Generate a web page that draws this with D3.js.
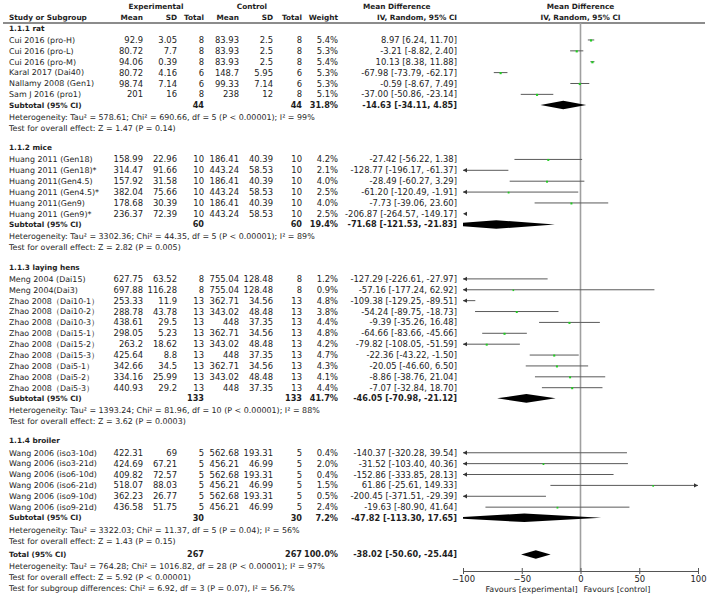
<!DOCTYPE html>
<html>
<head>
<meta charset="utf-8">
<script src="https://cdn.jsdelivr.net/npm/d3@7"></script>
<style>
  body { margin: 0; background: #fff; }
  svg text { font-family: "DejaVu Sans", sans-serif; fill: #1e1e1e; }
  svg text.b { font-weight: bold; }
</style>
</head>
<body>
<svg id="forest"></svg>
<script>
// subgroups
var groupNames = ["1.1.1 rat", "1.1.2 mice", "1.1.3 laying hens", "1.1.4 broiler"];

// studies (one entry per row)
var studyGroup = [0, 0, 0, 0, 0, 0,
  1, 1, 1, 1, 1, 1,
  2, 2, 2, 2, 2, 2, 2, 2, 2, 2, 2,
  3, 3, 3, 3, 3, 3];
var studyNames = [
  "Cui 2016 (pro-H)", "Cui 2016 (pro-L)", "Cui 2016 (pro-M)", "Karal 2017 (Dai40)", "Nallamy 2008 (Gen1)", "Sam J 2016 (pro1)",
  "Huang 2011 (Gen18)", "Huang 2011 (Gen18)*", "Huang 2011(Gen4.5)", "Huang 2011 (Gen4.5)*", "Huang 2011(Gen9)", "Huang 2011 (Gen9)*",
  "Meng 2004 (Dai15)", "Meng 2004(Dai3)", "Zhao 2008（Dai10-1）", "Zhao 2008（Dai10-2）", "Zhao 2008（Dai10-3）",
  "Zhao 2008（Dai15-1）", "Zhao 2008（Dai15-2）", "Zhao 2008（Dai15-3）", "Zhao 2008（Dai5-1）", "Zhao 2008（Dai5-2）", "Zhao 2008（Dai5-3）",
  "Wang 2006 (iso3-10d)", "Wang 2006 (iso3-21d)", "Wang 2006 (iso6-10d)", "Wang 2006 (iso6-21d)", "Wang 2006 (iso9-10d)", "Wang 2006 (iso9-21d)"
];
var expMean = [92.9, 80.72, 94.06, 80.72, 98.74, 201,
  158.99, 314.47, 157.92, 382.04, 178.68, 236.37,
  627.75, 697.88, 253.33, 288.78, 438.61, 298.05, 263.2, 425.64, 342.66, 334.16, 440.93,
  422.31, 424.69, 409.82, 518.07, 362.23, 436.58];
var expSD = [3.05, 7.7, 0.39, 4.16, 7.14, 16,
  22.96, 91.66, 31.58, 75.66, 30.39, 72.39,
  63.52, 116.28, 11.9, 43.78, 29.5, 5.23, 18.62, 8.8, 34.5, 25.99, 29.2,
  69, 67.21, 72.57, 88.03, 26.77, 51.75];
var expTotal = [8, 8, 8, 6, 6, 8,
  10, 10, 10, 10, 10, 10,
  8, 8, 13, 13, 13, 13, 13, 13, 13, 13, 13,
  5, 5, 5, 5, 5, 5];
var ctlMean = [83.93, 83.93, 83.93, 148.7, 99.33, 238,
  186.41, 443.24, 186.41, 443.24, 186.41, 443.24,
  755.04, 755.04, 362.71, 343.02, 448, 362.71, 343.02, 448, 362.71, 343.02, 448,
  562.68, 456.21, 562.68, 456.21, 562.68, 456.21];
var ctlSD = [2.5, 2.5, 2.5, 5.95, 7.14, 12,
  40.39, 58.53, 40.39, 58.53, 40.39, 58.53,
  128.48, 128.48, 34.56, 48.48, 37.35, 34.56, 48.48, 37.35, 34.56, 48.48, 37.35,
  193.31, 46.99, 193.31, 46.99, 193.31, 46.99];
var ctlTotal = expTotal;
var weights = [5.4, 5.3, 5.4, 5.3, 5.3, 5.1,
  4.2, 2.1, 4.0, 2.5, 4.0, 2.5,
  1.2, 0.9, 4.8, 3.8, 4.4, 4.8, 4.2, 4.7, 4.3, 4.1, 4.4,
  0.4, 2.0, 0.4, 1.5, 0.5, 2.4];
var md = [8.97, -3.21, 10.13, -67.98, -0.59, -37.00,
  -27.42, -128.77, -28.49, -61.20, -7.73, -206.87,
  -127.29, -57.16, -109.38, -54.24, -9.39, -64.66, -79.82, -22.36, -20.05, -8.86, -7.07,
  -140.37, -31.52, -152.86, 61.86, -200.45, -19.63];
var ciLow = [6.24, -8.82, 8.38, -73.79, -8.67, -50.86,
  -56.22, -196.17, -60.27, -120.49, -39.06, -264.57,
  -226.61, -177.24, -129.25, -89.75, -35.26, -83.66, -108.05, -43.22, -46.60, -38.76, -32.84,
  -320.28, -103.40, -333.85, -25.61, -371.51, -80.90];
var ciHigh = [11.70, 2.40, 11.88, -62.17, 7.49, -23.14,
  1.38, -61.37, 3.29, -1.91, 23.60, -149.17,
  -27.97, 62.92, -89.51, -18.73, 16.48, -45.66, -51.59, -1.50, 6.50, 21.04, 18.70,
  39.54, 40.36, 28.13, 149.33, -29.39, 41.64];

// subtotals
var subTotalExp = [44, 60, 133, 30];
var subTotalCtl = [44, 60, 133, 30];
var subWeight = [31.8, 19.4, 41.7, 7.2];
var subMD = [-14.63, -71.68, -46.05, -47.82];
var subLow = [-34.11, -121.53, -70.98, -113.30];
var subHigh = [4.85, -21.83, -21.12, 17.65];
var subHet = [
  "Heterogeneity: Tau² = 578.61; Chi² = 690.66, df = 5 (P < 0.00001); I² = 99%",
  "Heterogeneity: Tau² = 3302.36; Chi² = 44.35, df = 5 (P < 0.00001); I² = 89%",
  "Heterogeneity: Tau² = 1393.24; Chi² = 81.96, df = 10 (P < 0.00001); I² = 88%",
  "Heterogeneity: Tau² = 3322.03; Chi² = 11.37, df = 5 (P = 0.04); I² = 56%"
];
var subTest = [
  "Test for overall effect: Z = 1.47 (P = 0.14)",
  "Test for overall effect: Z = 2.82 (P = 0.005)",
  "Test for overall effect: Z = 3.62 (P = 0.0003)",
  "Test for overall effect: Z = 1.43 (P = 0.15)"
];

// overall
var totalExp = 267, totalCtl = 267, totalWeight = 100.0;
var totalMD = -38.02, totalLow = -50.60, totalHigh = -25.44;
var totalNotes = [
  "Heterogeneity: Tau² = 764.28; Chi² = 1016.82, df = 28 (P < 0.00001); I² = 97%",
  "Test for overall effect: Z = 5.92 (P < 0.00001)",
  "Test for subgroup differences: Chi² = 6.92, df = 3 (P = 0.07), I² = 56.7%"
];

var axisTicks = [-100, -50, 0, 50, 100];
var favourLabels = ["Favours [experimental]", "Favours [control]"];

function ciText(m, lo, hi) {
  return m.toFixed(2) + " [" + lo.toFixed(2) + ", " + hi.toFixed(2) + "]";
}

// font size that makes a sample string about `target` px wide
function fitSize(svg, sample, target, bold) {
  var t = svg.append("text").attr("font-size", 10).text(sample);
  if (bold) t.attr("class", "b");
  var w = t.node().getComputedTextLength();
  t.remove();
  return 10 * target / w;
}

function drawForest(id) {
  var width = 708, height = 602;
  var svg = d3.select(id).attr("width", width).attr("height", height);

  var fsText = fitSize(svg, subHet[0], 306, false);
  var fsNum = fitSize(svg, "-67.98 [-73.79, -62.17]", 96, false);
  var fsBold = fitSize(svg, "Study or Subgroup", 78, true);

  // column right edges
  var col = { label: 9, expMean: 143, expSD: 177, expTotal: 204, ctlMean: 239, ctlSD: 273, ctlTotal: 302, weight: 338, ci: 457 };

  var x = d3.scaleLinear().domain([-100, 100]).range([463, 698]);
  var y = d3.scaleLinear().domain([0, 1]).range([28, 38.88]);

  // lay out the rows
  var rows = [];
  var pos = 0;
  groupNames.forEach(function (g, gi) {
    if (gi > 0) pos += 1.8;
    rows.push({ kind: "group", pos: pos, gi: gi });
    pos += 1.1;
    studyNames.forEach(function (s, i) {
      if (studyGroup[i] !== gi) return;
      rows.push({ kind: "study", pos: pos, i: i });
      pos += 1;
    });
    pos -= 0.02;
    rows.push({ kind: "subtotal", pos: pos, gi: gi });
    pos += 1.1;
    rows.push({ kind: "note", pos: pos, text: subHet[gi] });
    pos += 1;
    rows.push({ kind: "note", pos: pos, text: subTest[gi] });
  });
  pos += 1.27;
  rows.push({ kind: "total", pos: pos });
  pos += 1.03;
  totalNotes.forEach(function (t) {
    rows.push({ kind: "note", pos: pos, text: t });
    pos += 1.05;
  });

  function txt(xp, yp, s, anchor, kind) {
    var size = kind === "num" ? fsNum : (kind === "b" || kind === "bnum") ? fsBold : fsText;
    if (kind === "bnum") size = fsNum * 0.97;
    svg.append("text")
      .attr("x", xp)
      .attr("y", yp)
      .attr("dy", "0.36em")
      .attr("text-anchor", anchor || "start")
      .attr("class", (kind === "b" || kind === "bnum") ? "b" : null)
      .attr("font-size", size)
      .text(s);
  }

  // headers
  txt(156, 6.5, "Experimental", "middle", "b");
  txt(252, 6.5, "Control", "middle", "b");
  txt(col.label, 17, "Study or Subgroup", "start", "b");
  txt(col.expMean, 17, "Mean", "end", "b");
  txt(col.expSD, 17, "SD", "end", "b");
  txt(col.expTotal, 17, "Total", "end", "b");
  txt(col.ctlMean, 17, "Mean", "end", "b");
  txt(col.ctlSD, 17, "SD", "end", "b");
  txt(col.ctlTotal, 17, "Total", "end", "b");
  txt(col.weight, 17, "Weight", "end", "b");
  txt(363, 6.5, "Mean Difference", "start", "b");
  txt(col.ci, 17, "IV, Random, 95% CI", "end", "b");
  txt(x(0), 6.5, "Mean Difference", "middle", "b");
  txt(x(0), 17, "IV, Random, 95% CI", "middle", "b");

  svg.append("line")
    .attr("x1", 3).attr("x2", 705)
    .attr("y1", 23).attr("y2", 23)
    .attr("stroke", "#8c8c8c").attr("stroke-width", 2);

  // zero line
  svg.append("line")
    .attr("x1", x(0)).attr("x2", x(0))
    .attr("y1", 23).attr("y2", 571)
    .attr("stroke", "#a0a0a0").attr("stroke-width", 1.6);

  svg.append("clipPath").attr("id", "plotclip")
    .append("rect")
    .attr("x", x(-100)).attr("y", 0)
    .attr("width", x(100) - x(-100)).attr("height", height);

  var plot = svg.append("g");

  function diamond(yp, m, lo, hi) {
    plot.append("polygon")
      .attr("clip-path", "url(#plotclip)")
      .attr("points", [[x(lo), yp], [x(m), yp - 4.3], [x(hi), yp], [x(m), yp + 4.3]].join(" "))
      .attr("fill", "#000");
  }

  function arrow(xp, yp, dir) {
    plot.append("polygon")
      .attr("points", [[xp, yp], [xp - dir * 4, yp - 2.2], [xp - dir * 4, yp + 2.2]].join(" "))
      .attr("fill", "#333");
  }

  rows.forEach(function (r) {
    var yp = y(r.pos);
    if (r.kind === "group") {
      txt(col.label, yp, groupNames[r.gi], "start", "b");
    } else if (r.kind === "note") {
      txt(col.label, yp, r.text);
    } else if (r.kind === "study") {
      var i = r.i;
      txt(col.label, yp, studyNames[i]);
      txt(col.expMean, yp, String(expMean[i]), "end", "num");
      txt(col.expSD, yp, String(expSD[i]), "end", "num");
      txt(col.expTotal, yp, String(expTotal[i]), "end", "num");
      txt(col.ctlMean, yp, String(ctlMean[i]), "end", "num");
      txt(col.ctlSD, yp, String(ctlSD[i]), "end", "num");
      txt(col.ctlTotal, yp, String(ctlTotal[i]), "end", "num");
      txt(col.weight, yp, weights[i].toFixed(1) + "%", "end", "num");
      txt(col.ci, yp, ciText(md[i], ciLow[i], ciHigh[i]), "end", "num");

      var lo = Math.max(ciLow[i], -100), hi = Math.min(ciHigh[i], 100);
      if (hi > lo) {
        plot.append("line")
          .attr("x1", x(lo)).attr("x2", x(hi))
          .attr("y1", yp).attr("y2", yp)
          .attr("stroke", "#5a5a5a").attr("stroke-width", 1);
      }
      if (ciLow[i] < -100) arrow(x(-100), yp, -1);
      if (ciHigh[i] > 100) arrow(x(100), yp, 1);
      if (md[i] >= -100 && md[i] <= 100) {
        var s = 1.5 + weights[i] * 0.12;
        plot.append("rect")
          .attr("x", x(md[i]) - s / 2).attr("y", yp - s / 2 + 0.5)
          .attr("width", s).attr("height", s)
          .attr("fill", "#22cc22");
      }
    } else if (r.kind === "subtotal") {
      var g = r.gi;
      txt(col.label, yp, "Subtotal (95% CI)", "start", "b");
      txt(col.expTotal, yp, String(subTotalExp[g]), "end", "bnum");
      txt(col.ctlTotal, yp, String(subTotalCtl[g]), "end", "bnum");
      txt(col.weight, yp, subWeight[g].toFixed(1) + "%", "end", "bnum");
      txt(col.ci, yp, ciText(subMD[g], subLow[g], subHigh[g]), "end", "bnum");
      diamond(yp, subMD[g], subLow[g], subHigh[g]);
    } else if (r.kind === "total") {
      txt(col.label, yp, "Total (95% CI)", "start", "b");
      txt(col.expTotal, yp, String(totalExp), "end", "bnum");
      txt(col.ctlTotal, yp, String(totalCtl), "end", "bnum");
      txt(col.weight, yp, totalWeight.toFixed(1) + "%", "end", "bnum");
      txt(col.ci, yp, ciText(totalMD, totalLow, totalHigh), "end", "bnum");
      diamond(yp, totalMD, totalLow, totalHigh);
    }
  });

  // axis
  var xAxis = d3.axisBottom(x).tickValues(axisTicks).tickSizeInner(3).tickSizeOuter(0).tickPadding(2);
  var ax = svg.append("g")
    .attr("transform", "translate(0,571)")
    .call(xAxis);
  ax.select(".domain").attr("stroke", "#555");
  ax.selectAll(".tick line").attr("y1", -3).attr("y2", 3).attr("stroke", "#555");
  ax.selectAll(".tick text")
    .attr("font-family", "DejaVu Sans, sans-serif")
    .attr("font-size", fsNum)
    .attr("fill", "#1e1e1e");

  txt(x(0) - 3, 589, favourLabels[0], "end");
  txt(x(0) + 3, 589, favourLabels[1], "start");
}

window.addEventListener('load', function () {
  drawForest('#forest');
});
</script>
</body>
</html>
